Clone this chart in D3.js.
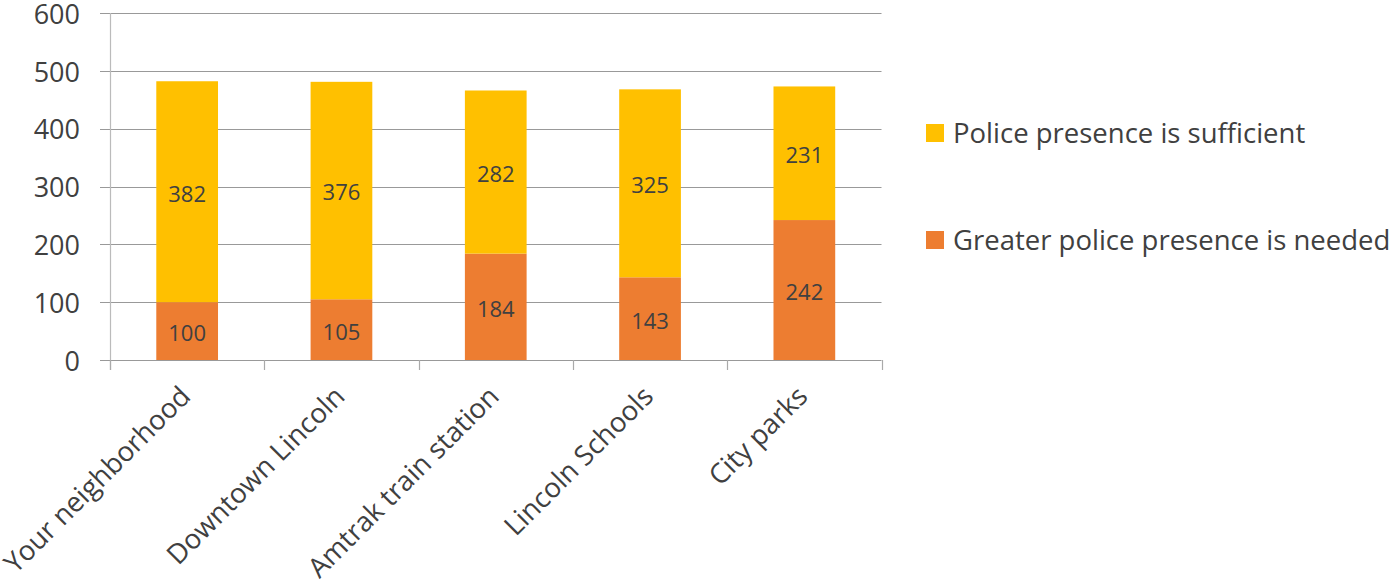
<!DOCTYPE html>
<html><head><meta charset="utf-8">
<script src="https://cdn.jsdelivr.net/npm/d3@7"></script>
<style>body{margin:0;background:#fff}svg{display:block}text{font-family:"Open Sans",sans-serif;fill:#404040}</style>
</head><body>
<script>
const categories = ["Your neighborhood","Downtown Lincoln","Amtrak train station","Lincoln Schools","City parks"];
const needed = [100,105,184,143,242];
const sufficient = [382,376,282,325,231];
const seriesNames = ["Police presence is sufficient","Greater police presence is needed"];
const yTicks = [0,100,200,300,400,500,600];

const W=1397,H=582;
const svg=d3.select("body").append("svg").attr("width",W).attr("height",H);
const x=d3.scaleBand().domain(categories).range([110,881.5]).paddingInner(0.6).paddingOuter(0.3);
const y=d3.scaleLinear().domain([0,600]).range([360,13]);

// gridlines
svg.append("g").selectAll("line").data(yTicks).join("line")
  .attr("x1",100).attr("x2",881.5).attr("y1",d=>Math.round(y(d))+0.5).attr("y2",d=>Math.round(y(d))+0.5)
  .attr("stroke","#999").attr("stroke-width",1.2);

// y axis
const yAxis=d3.axisLeft(y).tickValues(yTicks).tickSize(0).tickPadding(0);
const gy=svg.append("g").attr("transform","translate(80,0)").call(yAxis);
gy.select(".domain").remove();
gy.selectAll("text").style("font-size","27px").style("font-family","'Open Sans',sans-serif").attr("fill","#404040").attr("dy","0.38em");
svg.append("line").attr("x1",110.5).attr("x2",110.5).attr("y1",13).attr("y2",370).attr("stroke","#bbb").attr("stroke-width",1.2);

// x tick marks
const bounds=d3.range(6).map(i=>110+i*(881.5-110)/5);
svg.append("g").selectAll("line").data(bounds).join("line")
  .attr("x1",d=>Math.round(d)+0.5).attr("x2",d=>Math.round(d)+0.5).attr("y1",360).attr("y2",370)
  .attr("stroke","#aaa").attr("stroke-width",1.2);

// bars
const data=categories.map((c,i)=>({c,n:needed[i],s:sufficient[i]}));
const g=svg.append("g");
g.selectAll("rect.n").data(data).join("rect").attr("class","n")
  .attr("x",d=>x(d.c)).attr("width",x.bandwidth()).attr("y",d=>y(d.n)).attr("height",d=>y(0)-y(d.n)).attr("fill","#ED7D31");
g.selectAll("rect.s").data(data).join("rect").attr("class","s")
  .attr("x",d=>x(d.c)).attr("width",x.bandwidth()).attr("y",d=>y(d.n+d.s)).attr("height",d=>y(d.n)-y(d.n+d.s)).attr("fill","#FFC000");
// labels
g.selectAll("text.ln").data(data).join("text").attr("class","ln")
  .attr("x",d=>x(d.c)+x.bandwidth()/2).attr("y",d=>y(d.n/2)).attr("dy","0.45em").attr("text-anchor","middle")
  .style("font-size","22px").text(d=>d.n);
g.selectAll("text.ls").data(data).join("text").attr("class","ls")
  .attr("x",d=>x(d.c)+x.bandwidth()/2).attr("y",d=>y(d.n+d.s/2)).attr("dy","0.45em").attr("text-anchor","middle")
  .style("font-size","22px").text(d=>d.s);

// x labels
svg.append("g").selectAll("text").data(categories).join("text")
  .attr("transform",d=>`translate(${x(d)+x.bandwidth()/2+5},${398}) rotate(-45)`)
  .attr("text-anchor","end").style("font-size","27.5px").text(d=>d);

// legend
const leg=[{n:seriesNames[0],c:"#FFC000",y:133},{n:seriesNames[1],c:"#ED7D31",y:240}];
const lg=svg.append("g").selectAll("g").data(leg).join("g");
lg.append("rect").attr("x",926).attr("y",d=>d.y-9).attr("width",18).attr("height",18).attr("fill",d=>d.c);
lg.append("text").attr("x",953).attr("y",d=>d.y).attr("dy","0.36em").style("font-size","27.5px").text(d=>d.n);
</script>
</body></html>
